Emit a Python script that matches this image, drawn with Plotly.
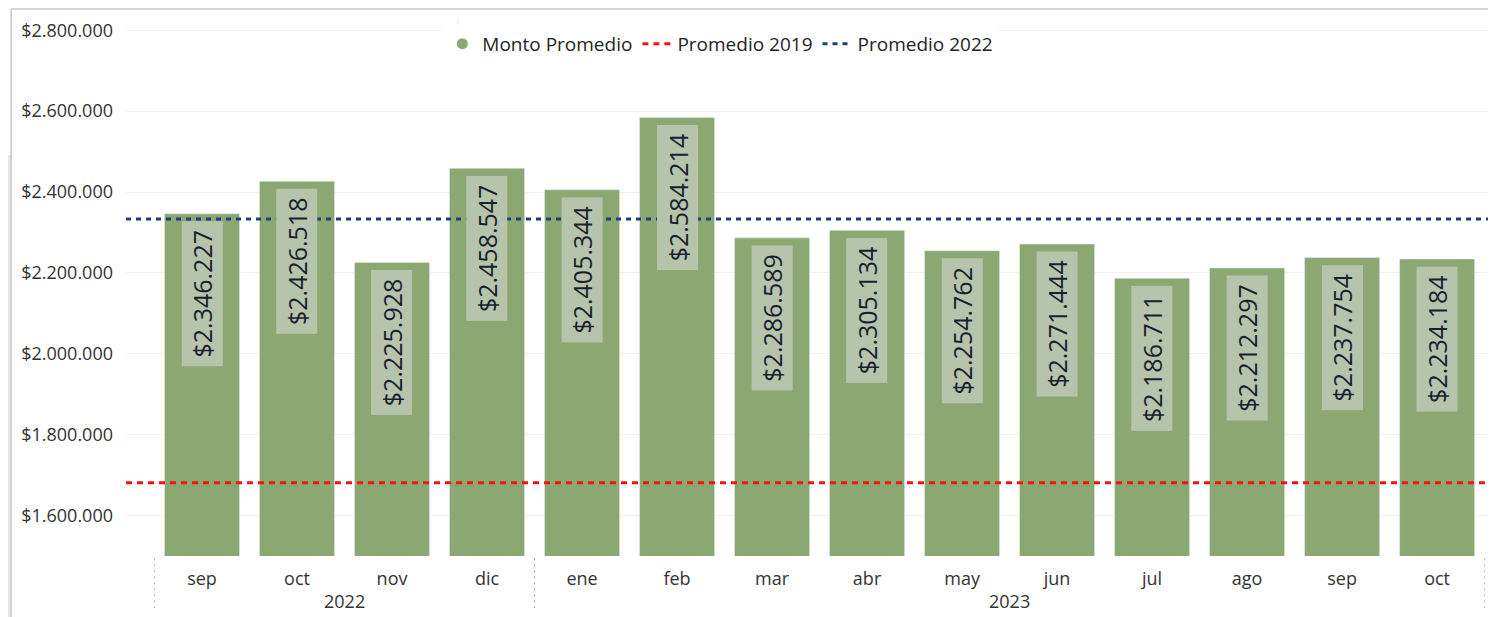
import plotly.graph_objects as go

meses = ["sep", "oct", "nov", "dic", "ene", "feb", "mar", "abr", "may", "jun", "jul", "ago", "sep", "oct"]
anios = ["2022", "2022", "2022", "2022", "2023", "2023", "2023", "2023", "2023", "2023", "2023", "2023", "2023", "2023"]
monto_promedio = [2346227, 2426518, 2225928, 2458547, 2405344, 2584214, 2286589,
                  2305134, 2254762, 2271444, 2186711, 2212297, 2237754, 2234184]
promedio_2019 = 1681000
promedio_2022 = 2333000
y_ticks = [1600000, 1800000, 2000000, 2200000, 2400000, 2600000, 2800000]

VERDE = "#8ba873"
FUENTE = "Open Sans"

x_idx = list(range(len(meses)))
x_rango = [-0.8, 13.62]


def fmt(v):
    return "$" + f"{v:,}".replace(",", ".")


fig = go.Figure()

fig.add_trace(go.Bar(x=x_idx, y=monto_promedio, marker_color=VERDE, width=0.79,
                     showlegend=False, name="Monto Promedio"))

# entrada de leyenda con circulo
fig.add_trace(go.Scatter(x=[None], y=[None], mode="markers", name="Monto Promedio",
                         marker=dict(symbol="circle", size=11, color=VERDE)))

fig.add_trace(go.Scatter(x=x_rango, y=[promedio_2019] * 2, mode="lines", name="Promedio 2019",
                         line=dict(color="#ff1010", width=3, dash="6px,5px")))
fig.add_trace(go.Scatter(x=x_rango, y=[promedio_2022] * 2, mode="lines", name="Promedio 2022",
                         line=dict(color="#1f3d7a", width=3, dash="5px,5px")))

# etiquetas de datos
for i, v in zip(x_idx, monto_promedio):
    fig.add_annotation(x=i, y=v, text=fmt(v), textangle=-90, showarrow=False,
                       xanchor="center", yanchor="top", yshift=-7,
                       width=140, height=36,
                       bgcolor="#b7c4ac", borderpad=2,
                       font=dict(family=FUENTE, size=25, color="#1a1f2e"))

# etiquetas de anio y divisores
grupos = {}
for i, a in zip(x_idx, anios):
    grupos.setdefault(a, []).append(i)
for a, idx in grupos.items():
    fig.add_annotation(x=(min(idx) + max(idx)) / 2, y=-0.082, xref="x", yref="paper",
                       text=a, showarrow=False, yanchor="middle",
                       font=dict(family=FUENTE, size=18, color="#333333"))
    for b in (min(idx) - 0.5, max(idx) + 0.5):
        fig.add_shape(type="line", xref="x", yref="paper", x0=b, x1=b, y0=-0.005, y1=-0.103,
                      line=dict(color="#8a8a8a", width=1, dash="1px,5px"))

# marco del lienzo
fig.add_shape(type="rect", xref="paper", yref="paper", x0=-0.0862, x1=-0.0839,
              y0=-0.12, y1=0.7344, fillcolor="#e6e6e6", line_width=0, layer="below")
fig.add_shape(type="line", xref="paper", yref="paper", x0=-0.0839, x1=-0.0839,
              y0=-0.12, y1=1.002, line=dict(color="#c8c8c8", width=1.5))
fig.add_shape(type="line", xref="paper", yref="paper", x0=-0.0839, x1=1.0,
              y0=1.002, y1=1.002, line=dict(color="#c8c8c8", width=1.5))
fig.add_shape(type="line", xref="paper", yref="paper", x0=0.2423, x1=0.2423,
              y0=0.913, y1=0.985, line=dict(color="#ececec", width=1))

fig.update_layout(
    width=1488, height=609,
    margin=dict(l=118, r=0, t=2, b=61),
    paper_bgcolor="white", plot_bgcolor="white",
    bargap=0.21,
    font=dict(family=FUENTE, size=18, color="#333333"),
    legend=dict(orientation="h", x=0.2309, xanchor="left", y=0.938, yanchor="middle",
                bgcolor="white", font=dict(family=FUENTE, size=19, color="#252423"),
                itemwidth=30, tracegroupgap=0),
    xaxis=dict(range=x_rango, tickmode="array", tickvals=x_idx, ticktext=meses,
               showgrid=False, zeroline=False, showline=False, ticks="",
               ticklabelstandoff=10,
               tickfont=dict(family=FUENTE, size=18, color="#333333")),
    yaxis=dict(range=[1500000, 2850000], tickmode="array", tickvals=y_ticks,
               ticktext=[fmt(t) for t in y_ticks],
               showgrid=True, gridcolor="#f0f0f0", gridwidth=1, zeroline=False, ticks="",
               ticklabelstandoff=12,
               tickfont=dict(family=FUENTE, size=18, color="#333333")),
)

fig.write_html("out.html")
